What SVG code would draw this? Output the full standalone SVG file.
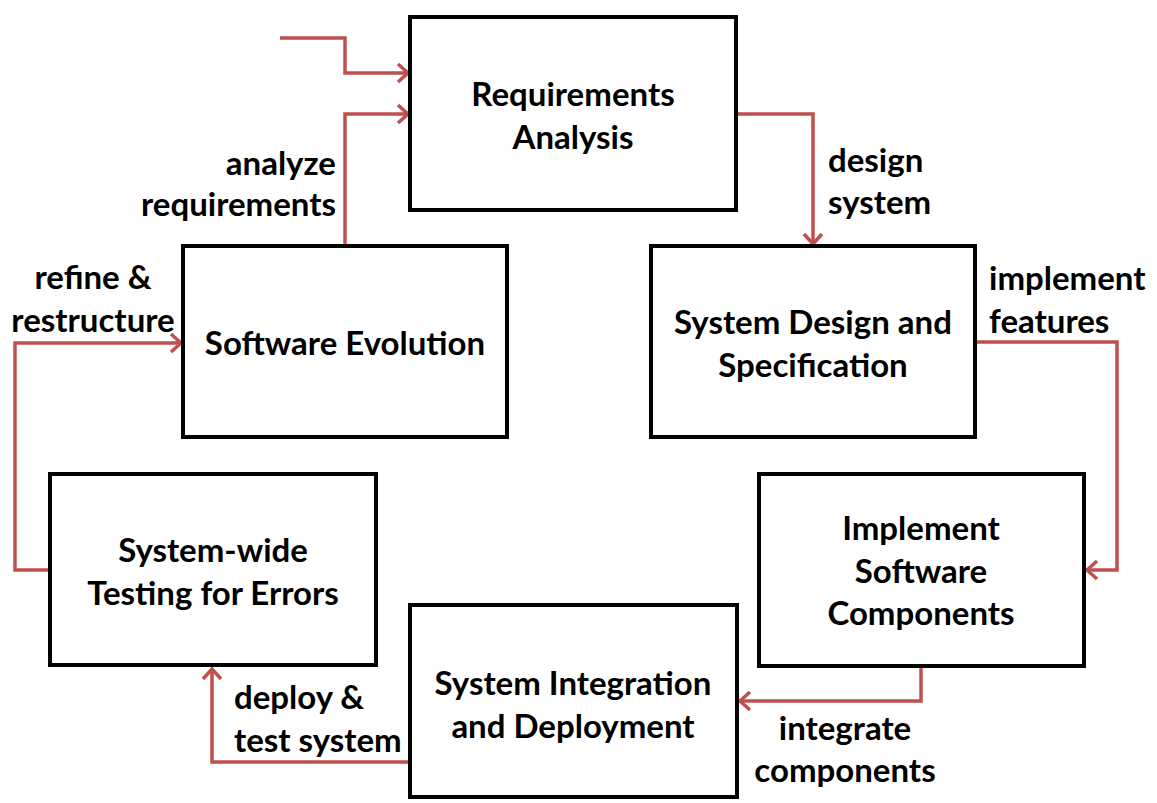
<svg xmlns="http://www.w3.org/2000/svg" width="1157" height="803" viewBox="0 0 1157 803">
<style>
.box{fill:#fff;stroke:#000;stroke-width:4}
.t{font-family:Lato,"Open Sans","Liberation Sans",sans-serif;font-weight:bold;font-size:33px;fill:#000}
.c{text-anchor:middle}
.e{text-anchor:end}
.conn{fill:none;stroke:#c0504d;stroke-width:3.5;marker-end:url(#ah)}
</style>
<defs>
<marker id="ah" viewBox="0 0 14 22" refX="13" refY="11" markerWidth="14" markerHeight="22" markerUnits="userSpaceOnUse" orient="auto">
<polyline points="2,2 12,11 2,20" fill="none" stroke="#c0504d" stroke-width="3.5"/>
</marker>
</defs>
<rect width="1157" height="803" fill="#fff"/>
<g id="connectors">
<polyline class="conn" points="280,38 345,38 345,73 409,73"/>
<polyline class="conn" points="345,246 345,114 409,114"/>
<polyline class="conn" points="737,114 813,114 813,245"/>
<polyline class="conn" points="976,342 1117,342 1117,570 1086,570"/>
<polyline class="conn" points="921,667 921,701 739,701"/>
<polyline class="conn" points="410,762 212,762 212,668"/>
<polyline class="conn" points="50,570 15,570 15,343 182,343"/>
</g>
<g id="n-req">
<rect class="box" x="410" y="17" width="326" height="193"/>
<text class="t c" x="573" y="106">Requirements</text>
<text class="t c" x="573" y="149">Analysis</text>
</g>
<g id="n-evo">
<rect class="box" x="183" y="246" width="324" height="191"/>
<text class="t c" x="345" y="355">Software Evolution</text>
</g>
<g id="n-design">
<rect class="box" x="651" y="246" width="324" height="191"/>
<text class="t c" x="813" y="334">System Design and</text>
<text class="t c" x="813" y="377">Specification</text>
</g>
<g id="n-impl">
<rect class="box" x="759" y="474" width="325" height="192"/>
<text class="t c" x="921" y="540">Implement</text>
<text class="t c" x="921" y="583">Software</text>
<text class="t c" x="921" y="625">Components</text>
</g>
<g id="n-test">
<rect class="box" x="50" y="474" width="326" height="191"/>
<text class="t c" x="213" y="562">System-wide</text>
<text class="t c" x="213" y="605">Testing for Errors</text>
</g>
<g id="n-integ">
<rect class="box" x="410" y="605" width="327" height="192"/>
<text class="t c" x="573" y="695">System Integration</text>
<text class="t c" x="573" y="738">and Deployment</text>
</g>
<g id="labels">
<text class="t e" x="336" y="175">analyze</text>
<text class="t e" x="336" y="216">requirements</text>
<text class="t" x="828" y="172">design</text>
<text class="t" x="828" y="214">system</text>
<text class="t c" x="93" y="289">refine &amp;</text>
<text class="t c" x="93" y="332">restructure</text>
<text class="t" x="989" y="290">implement</text>
<text class="t" x="989" y="333">features</text>
<text class="t" x="234" y="709">deploy &amp;</text>
<text class="t" x="234" y="752">test system</text>
<text class="t c" x="845" y="740">integrate</text>
<text class="t c" x="845" y="782">components</text>
</g>
</svg>
